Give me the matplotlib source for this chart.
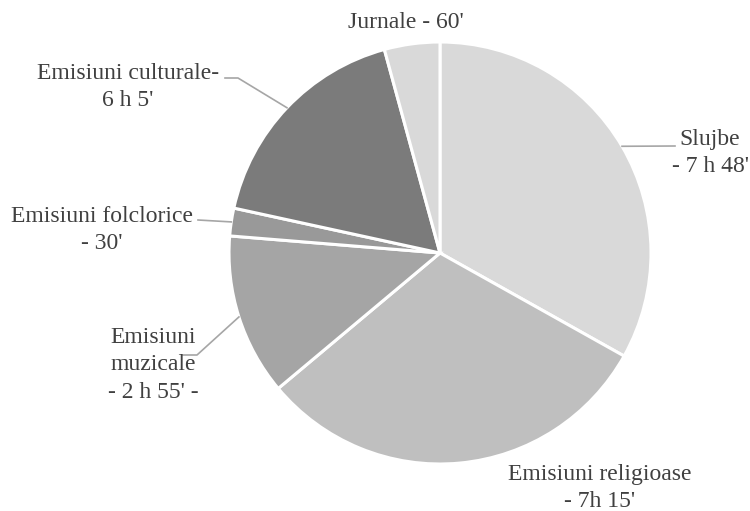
import numpy as np
import matplotlib
matplotlib.use("Agg")
import matplotlib.pyplot as plt

categories = ["Slujbe", "Emisiuni religioase", "Emisiuni muzicale",
              "Emisiuni folclorice", "Emisiuni culturale", "Jurnale"]
minutes = [468, 435, 175, 30, 245, 60]
labels = ["Slujbe\n- 7 h 48'", "Emisiuni religioase\n- 7h 15'",
          "Emisiuni\nmuzicale\n- 2 h 55' -", "Emisiuni folclorice\n- 30'",
          "Emisiuni culturale-\n6 h 5'", "Jurnale - 60'"]
colors = ["#d9d9d9", "#bfbfbf", "#a5a5a5", "#999999", "#7b7b7b", "#d9d9d9"]

W, H = 750, 511
fig = plt.figure(figsize=(W / 100, H / 100), dpi=100)
ax = fig.add_axes([0, 0, 1, 1])
cx, cy, R = 440, H - 253, 211

wedges, _ = ax.pie(minutes, colors=colors, startangle=90, counterclock=False,
                   center=(cx, cy), radius=R,
                   wedgeprops=dict(edgecolor="white", linewidth=2.2))
ax.set_xlim(0, W)
ax.set_ylim(0, H)
ax.set_aspect("equal")
ax.axis("off")

font = dict(family="Liberation Serif", fontsize=17, color="#404040", linespacing=1.38)

def edge(w):
    a = np.deg2rad((w.theta1 + w.theta2) / 2)
    return cx + R * np.cos(a), cy + R * np.sin(a)

lc = "#a6a6a6"
# (x, y-from-top)
pos = {
    0: (710, 153),
    1: (600, 488),
    2: (153, 365),
    3: (102, 230),
    4: (128, 87),
    5: (406, 22),
}
for i, lab in enumerate(labels):
    x, y = pos[i]
    ax.text(x, H - y, lab, ha="center", va="center", multialignment="center", **font)

e = edge(wedges[0]); ax.plot([e[0], 675], [e[1], H - 146], color=lc, lw=1.2)
e = edge(wedges[2]); ax.plot([e[0], 197, 183], [e[1], H - 355, H - 355], color=lc, lw=1.2)
e = edge(wedges[3]); ax.plot([e[0], 198], [e[1], H - 220], color=lc, lw=1.2)
e = edge(wedges[4]); ax.plot([e[0], 238, 225], [e[1], H - 78, H - 78], color=lc, lw=1.2)

fig.savefig("out.png", dpi=100)
